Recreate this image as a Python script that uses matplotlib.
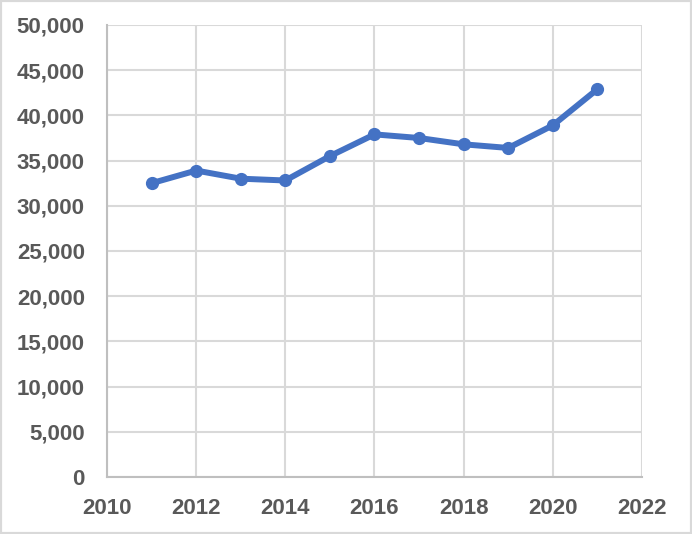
import matplotlib
matplotlib.use("Agg")
import matplotlib.pyplot as plt
from matplotlib.patches import Rectangle
from matplotlib.ticker import FuncFormatter

years = [2011, 2012, 2013, 2014, 2015, 2016, 2017, 2018, 2019, 2020, 2021]
values = [32500, 33900, 33000, 32800, 35500, 37900, 37500, 36800, 36400, 38900, 42900]
x_ticks = [2010, 2012, 2014, 2016, 2018, 2020, 2022]
y_ticks = list(range(0, 50001, 5000))

plt.rcParams['font.family'] = ['Liberation Sans', 'DejaVu Sans']

fig = plt.figure(figsize=(6.92, 5.34), dpi=100)
ax = fig.add_axes([107/692, 57/534, (642-107)/692, (477-25)/534])

ax.plot(years, values, color='#4472C4', linewidth=4.3, marker='o', markersize=8.5,
        solid_capstyle='round', solid_joinstyle='round', zorder=3)

ax.set_xlim(2010, 2022)
ax.set_ylim(0, 50000)
ax.set_xticks(x_ticks)
ax.set_yticks(y_ticks)
ax.yaxis.set_major_formatter(FuncFormatter(lambda v, p: f"{int(v):,}"))
ax.grid(True, color='#D9D9D9', linewidth=1.5)
ax.set_axisbelow(True)
for s in ['top', 'right']:
    ax.spines[s].set_visible(False)
for s in ['left', 'bottom']:
    ax.spines[s].set_color('#BFBFBF')
    ax.spines[s].set_linewidth(1.5)
ax.tick_params(axis='both', length=0, labelsize=16, labelcolor='#595959')
ax.tick_params(axis='y', pad=16)
ax.tick_params(axis='x', pad=15)
for lab in ax.get_xticklabels() + ax.get_yticklabels():
    lab.set_fontweight('bold')

fig.patches.append(Rectangle((0, 0), 1, 1, transform=fig.transFigure, fill=False,
                             edgecolor='#D9D9D9', linewidth=3))
fig.savefig('out.png', dpi=100)
